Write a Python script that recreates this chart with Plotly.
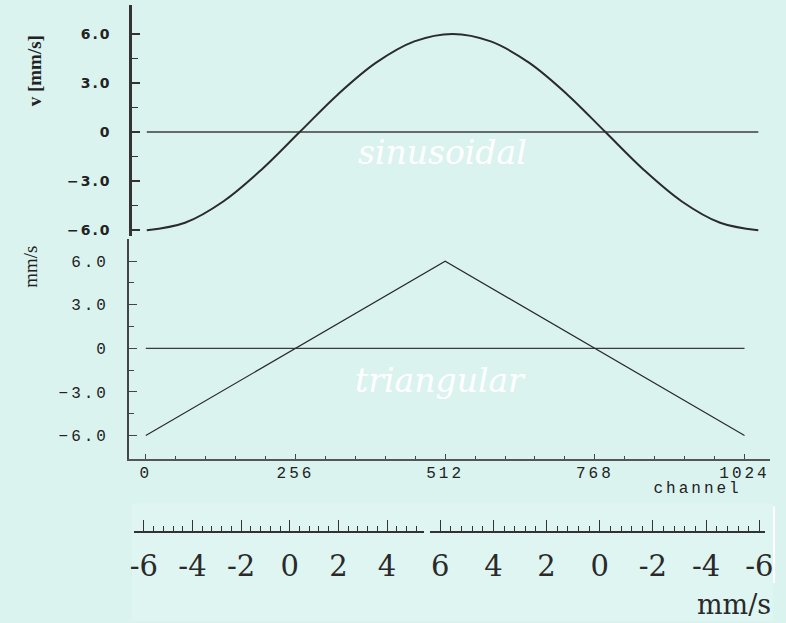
import plotly.graph_objects as go

# ---------------- data ----------------
sine_channel = [0, 64, 128, 192, 256, 320, 384, 448, 512, 576, 640, 704, 768, 832, 896, 960, 1024]
sine_velocity = [-6.0, -5.54, -4.24, -2.30, 0.0, 2.30, 4.24, 5.54, 6.0, 5.54, 4.24, 2.30, 0.0, -2.30, -4.24, -5.54, -6.0]

tri_channel = [0, 512, 1024]
tri_velocity = [-6.0, 6.0, -6.0]

zero_channel = [0, 1024]
zero_velocity = [0, 0]

v_tickvals = [-6, -3, 0, 3, 6]
v_ticktext = ["\u22126.0", "\u22123.0", "0", "3.0", "6.0"]
v_minor = [-4.5, -1.5, 1.5, 4.5]

ch_tickvals = [0, 256, 512, 768, 1024]
ch_ticktext = ["0", "256", "512", "768", "1024"]

ruler_left_vals = [-6, -4, -2, 0, 2, 4]
ruler_left_text = ["-6", "-4", "-2", "0", "2", "4"]
ruler_right_vals = [6, 4, 2, 0, -2, -4, -6]
ruler_right_text = ["6", "4", "2", "0", "-2", "-4", "-6"]

W, H = 786, 623
BG = "#daf3ef"
INK = "#2b2b2b"


def px(x):
    return x / W


def py(y):
    return 1 - y / H


fig = go.Figure()

# top panel
fig.add_trace(go.Scatter(x=zero_channel, y=zero_velocity, mode="lines",
                         line=dict(color="#3c3c3c", width=1.6), xaxis="x", yaxis="y", hoverinfo="skip"))
fig.add_trace(go.Scatter(x=sine_channel, y=sine_velocity, mode="lines", line_shape="spline",
                         line=dict(color=INK, width=2), xaxis="x", yaxis="y", hoverinfo="skip"))
# bottom panel
fig.add_trace(go.Scatter(x=zero_channel, y=zero_velocity, mode="lines",
                         line=dict(color="#3c3c3c", width=1.3), xaxis="x2", yaxis="y2", hoverinfo="skip"))
fig.add_trace(go.Scatter(x=tri_channel, y=tri_velocity, mode="lines",
                         line=dict(color=INK, width=1.2), xaxis="x2", yaxis="y2", hoverinfo="skip"))
# rulers (invisible anchors)
fig.add_trace(go.Scatter(x=[0], y=[0], mode="markers", marker=dict(opacity=0),
                         xaxis="x3", yaxis="y3", hoverinfo="skip"))
fig.add_trace(go.Scatter(x=[0], y=[0], mode="markers", marker=dict(opacity=0),
                         xaxis="x4", yaxis="y4", hoverinfo="skip"))

axis_common = dict(showgrid=False, zeroline=False, fixedrange=True)

# top panel axes: 0 -> 145px, 1024 -> 766px ; 6 -> 34px, -6 -> 231px
sx1 = (766 - 145) / 1024
sy1 = (231 - 34) / 12
fig.update_layout(
    xaxis=dict(domain=[px(130), px(780)], range=[-(145 - 130) / sx1, 1024 + (780 - 766) / sx1],
               visible=False, anchor="y", **axis_common),
    yaxis=dict(domain=[py(237), py(5)], range=[-6 - (237 - 231) / sy1, 6 + (34 - 5) / sy1],
               anchor="x", showline=True, linecolor="#333333", linewidth=2.5,
               ticks="inside", ticklen=8, tickwidth=1.5, tickcolor="#333333",
               tickvals=v_tickvals, ticktext=v_ticktext,
               tickfont=dict(family="DejaVu Sans", size=14, color="#222222", weight="bold"),
               ticklabelstandoff=15,
               minor=dict(tickvals=v_minor, ticks="inside", ticklen=6, tickwidth=1.2, tickcolor="#333333"),
               **axis_common),
)

# bottom panel axes: 0 -> 144px, 1024 -> 752px ; 6 -> 262px, -6 -> 437px
sx2 = (752 - 144) / 1024
sy2 = (437 - 262) / 12
fig.update_layout(
    xaxis2=dict(domain=[px(127), px(778)], range=[-(144 - 127) / sx2, 1024 + (778 - 752) / sx2],
                anchor="y2", showline=True, linecolor="#555555", linewidth=1.5,
                ticks="inside", ticklen=5, tickwidth=1.3, tickcolor="#444444",
                tickvals=ch_tickvals, ticktext=ch_ticktext,
                tickfont=dict(family="Liberation Mono", size=16, color="#222222"),
                ticklabelstandoff=-1,
                minor=dict(dtick=51.2, tick0=0, ticks="inside", ticklen=3, tickwidth=1.2, tickcolor="#444444"),
                **axis_common),
    yaxis2=dict(domain=[py(460), py(240)], range=[-6 - (460 - 437) / sy2, 6 + (262 - 240) / sy2],
                anchor="x2", showline=True, linecolor="#444444", linewidth=1.8,
                ticks="inside", ticklen=8, tickwidth=1.2, tickcolor="#444444",
                tickvals=v_tickvals, ticktext=v_ticktext,
                tickfont=dict(family="Liberation Mono", size=16, color="#222222"),
                ticklabelstandoff=15,
                minor=dict(tickvals=v_minor, ticks="inside", ticklen=5, tickwidth=1.0, tickcolor="#444444"),
                **axis_common),
)

# velocity rulers: left -6 -> 142px, 4 -> 389px ; right 6 -> 443px, -6 -> 767px
sr1 = (389 - 142) / 10
sr2 = (767 - 443) / 12
ruler_font = dict(family="DejaVu Serif", size=29, color="#2a2a2a")
fig.update_layout(
    xaxis3=dict(domain=[px(132), px(427)], range=[-6 - (142 - 132) / sr1, 4 + (427 - 389) / sr1],
                anchor="y3", showline=True, linecolor="#333333", linewidth=2,
                ticks="inside", ticklen=11, tickwidth=1.3, tickcolor="#333333",
                tickvals=ruler_left_vals, ticktext=ruler_left_text, tickfont=ruler_font,
                ticklabelstandoff=8,
                minor=dict(dtick=0.4, tick0=0, ticks="inside", ticklen=5, tickwidth=1.1, tickcolor="#333333"),
                **axis_common),
    yaxis3=dict(domain=[py(533), py(520)], range=[0, 1], anchor="x3", visible=False, **axis_common),
    xaxis4=dict(domain=[px(433), px(773)], range=[6 + (443 - 433) / sr2, -6 - (773 - 767) / sr2],
                anchor="y4", showline=True, linecolor="#333333", linewidth=2,
                ticks="inside", ticklen=11, tickwidth=1.3, tickcolor="#333333",
                tickvals=ruler_right_vals, ticktext=ruler_right_text, tickfont=ruler_font,
                ticklabelstandoff=8,
                minor=dict(dtick=0.4, tick0=0, ticks="inside", ticklen=5, tickwidth=1.1, tickcolor="#333333"),
                **axis_common),
    yaxis4=dict(domain=[py(533), py(520)], range=[0, 1], anchor="x4", visible=False, **axis_common),
)

ann_common = dict(showarrow=False, xanchor="center", yanchor="middle")
annotations = [
    dict(text="v [mm/s]", x=px(31), y=py(71), xref="paper", yref="paper", textangle=-90,
         font=dict(family="Liberation Serif", size=19, color="#222222", weight="bold"), **ann_common),
    dict(text="mm/s", x=px(27), y=py(268), xref="paper", yref="paper", textangle=-90,
         font=dict(family="Liberation Serif", size=19, color="#222222"), **ann_common),
    dict(text="channel", x=px(704), y=py(491), xref="paper", yref="paper",
         font=dict(family="Liberation Mono", size=16, color="#222222"), **ann_common),
    dict(text="mm/s", x=px(741), y=py(606), xref="paper", yref="paper",
         font=dict(family="DejaVu Serif", size=27, color="#2a2a2a"), **ann_common),
    dict(text="sinusoidal", x=495, y=-1.22, xref="x", yref="y",
         font=dict(family="DejaVu Serif", size=33, color="white", style="italic"), **ann_common),
    dict(text="triangular", x=504, y=-2.2, xref="x2", yref="y2",
         font=dict(family="DejaVu Serif", size=33, color="white", style="italic"), **ann_common),
]

fig.update_layout(
    width=W, height=H, margin=dict(l=0, r=0, t=0, b=0),
    paper_bgcolor=BG, plot_bgcolor="rgba(0,0,0,0)",
    showlegend=False, annotations=annotations,
    shapes=[
        dict(type="rect", xref="paper", yref="paper", x0=px(130), x1=px(781), y0=0, y1=py(505),
             fillcolor="#dff5f2", line=dict(width=0), layer="below"),
        dict(type="line", xref="paper", yref="paper", x0=px(782), x1=px(782), y0=py(585), y1=py(508),
             line=dict(color="white", width=2)),
    ],
)

post = """
var gd = document.getElementById('{plot_id}');
function ls(sel, v){ gd.querySelectorAll(sel).forEach(function(t){ t.style.letterSpacing = v; }); }
ls('g.ytick text', '2px');
ls('g.y2tick text', '3px');
ls('g.x2tick text', '3px');
ls('g.annotation[data-index="2"] text', '3px');
"""

fig.write_html("out.html", post_script=post, config={"displayModeBar": False})
